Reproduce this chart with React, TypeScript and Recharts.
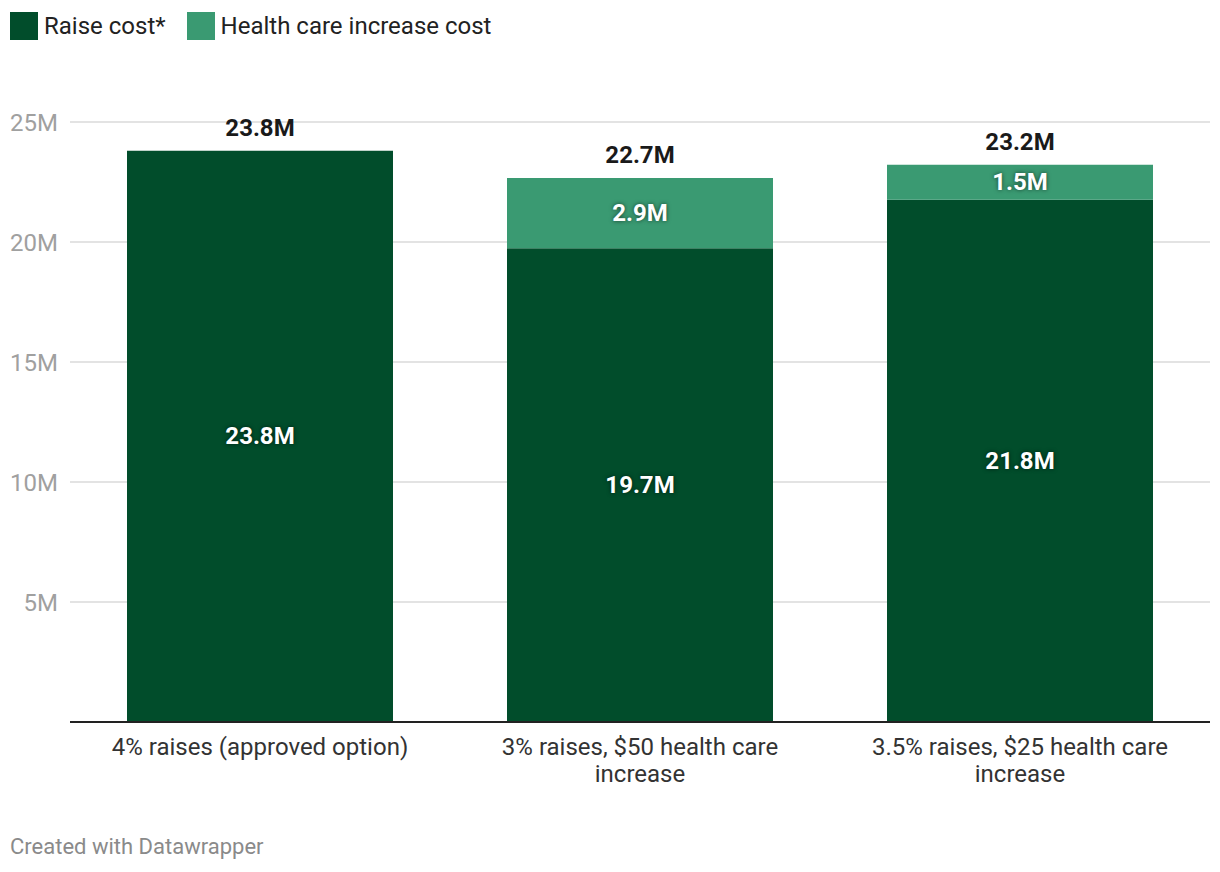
import React from 'react';
import {Bar, BarChart, CartesianGrid, LabelList, XAxis, YAxis} from 'recharts';

const categories: string[] = [
    '4% raises (approved option)',
    '3% raises, $50 health care increase',
    '3.5% raises, $25 health care increase',
];
const raiseCost: number[] = [23.8, 19.74, 21.76];
const healthCost: number[] = [0, 2.93, 1.46];
const yTicks: number[] = [0, 5, 10, 15, 20, 25];

const DARK = '#014d2b';
const LIGHT = '#3a9a72';
const FONT = 'Roboto, sans-serif';

const data = categories.map((name, i) => ({name, raise: raiseCost[i], health: healthCost[i]}));

const fmt = (v: number) => `${v.toFixed(1)}M`;

let ctx: CanvasRenderingContext2D | null = null;
function wrap(label: string, maxWidth: number, font: string): string[] {
    if (!ctx) ctx = document.createElement('canvas').getContext('2d');
    if (!ctx) return [label];
    ctx.font = font;
    const lines: string[] = [];
    let line = '';
    for (const word of label.split(' ')) {
        const test = line ? `${line} ${word}` : word;
        if (line && ctx.measureText(test).width > maxWidth) {
            lines.push(line);
            line = word;
        } else {
            line = test;
        }
    }
    if (line) lines.push(line);
    return lines;
}

function CategoryTick(props: any): React.JSX.Element {
    const {x, y, payload} = props;
    const lines = wrap(payload.value, 320, `24px ${FONT}`);
    return (
        <text x={x} y={y + 25} textAnchor="middle" fill="#333333" fontSize={24} fontFamily={FONT}>
            {lines.map((l, i) => (
                <tspan key={i} x={x} dy={i === 0 ? 0 : 27}>{l}</tspan>
            ))}
        </text>
    );
}

function InsideLabel(props: any): React.JSX.Element | null {
    const {x, y, width, height, value} = props;
    if (!value) return null;
    return (
        <text x={x + width / 2} y={y + height / 2} textAnchor="middle" dominantBaseline="central"
              fill="#ffffff" fontSize={24} fontWeight={700} fontFamily={FONT}
              style={{textShadow: '0 0 4px rgba(0,0,0,0.6)'}}>
            {fmt(value)}
        </text>
    );
}

// drawn on the raise bar so every category gets one; lifted by the health segment height
function TotalLabel(props: any): React.JSX.Element {
    const {x, y, width, height, index} = props;
    const pxPerUnit = height / raiseCost[index];
    const top = y - healthCost[index] * pxPerUnit;
    const total = raiseCost[index] + healthCost[index];
    return (
        <text x={x + width / 2} y={top - 23} textAnchor="middle" dominantBaseline="central"
              fill="#1a1a1a" fontSize={24} fontWeight={700} fontFamily={FONT}>
            {fmt(total)}
        </text>
    );
}

export default function App(): React.JSX.Element {
    return (
        <div style={{position: 'absolute', left: 0, top: 0, width: 1220, height: 872, background: '#fff', fontFamily: FONT}}>
            <div style={{position: 'absolute', left: 10, top: 12, display: 'flex', alignItems: 'center', fontSize: 24, color: '#222'}}>
                <span style={{width: 28, height: 28, background: DARK, display: 'inline-block', marginRight: 6}}/>
                <span style={{marginRight: 21}}>Raise cost*</span>
                <span style={{width: 28, height: 28, background: LIGHT, display: 'inline-block', marginRight: 6}}/>
                <span>Health care increase cost</span>
            </div>
            <BarChart width={1220} height={872} data={data} barCategoryGap="15%"
                      margin={{top: 122, right: 10, left: 0, bottom: 90}}>
                <CartesianGrid vertical={false} stroke="#e3e3e3" strokeWidth={2}/>
                <YAxis domain={[0, 25]} ticks={yTicks} width={70} axisLine={false} tickLine={false}
                       tickMargin={6} tick={{fontSize: 24, fill: '#a0a0a0', fontFamily: FONT}}
                       tickFormatter={(v: number) => (v === 0 ? '' : `${v}M`)}/>
                <XAxis dataKey="name" height={60} tickLine={false} axisLine={{stroke: '#222', strokeWidth: 2}}
                       tick={<CategoryTick/>} interval={0}/>
                <Bar dataKey="raise" stackId="a" fill={DARK} isAnimationActive={false}>
                    <LabelList dataKey="raise" content={<InsideLabel/>}/>
                    <LabelList dataKey="raise" content={<TotalLabel/>}/>
                </Bar>
                <Bar dataKey="health" stackId="a" fill={LIGHT} isAnimationActive={false}>
                    <LabelList dataKey="health" content={<InsideLabel/>}/>
                </Bar>
            </BarChart>
            <div style={{position: 'absolute', left: 10, top: 834, fontSize: 22, color: '#8a8a8a'}}>
                Created with Datawrapper
            </div>
        </div>
    );
}
